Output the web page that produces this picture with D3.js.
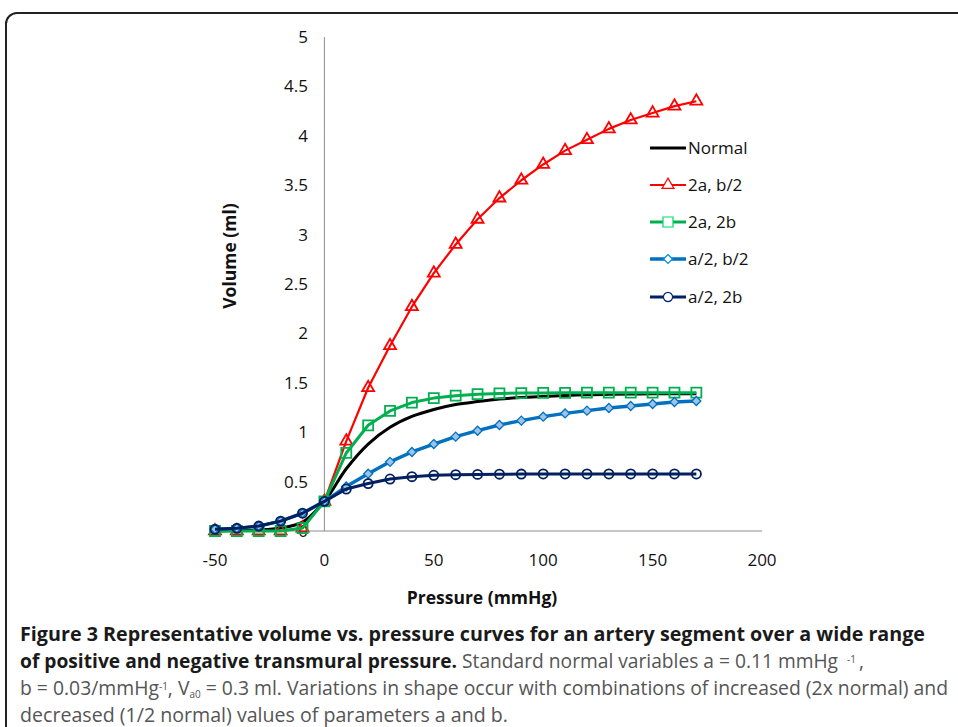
<!DOCTYPE html>
<html>
<head>
<meta charset="utf-8">
<script src="https://cdn.jsdelivr.net/npm/d3@7"></script>
<style>
  body { margin: 0; background: #fff; }
  svg { display: block; }
</style>
</head>
<body>
<script>
var w = 958;
var h = 727;

// pressure values (mmHg) shared by every series
var pressure = [-50, -40, -30, -20, -10, 0, 10, 20, 30, 40, 50, 60, 70, 80, 90, 100, 110, 120, 130, 140, 150, 160, 170];

var normal = [0.00, 0.005, 0.01, 0.03, 0.09, 0.30, 0.63, 0.88, 1.05, 1.16, 1.23, 1.28, 1.31, 1.335, 1.35, 1.362, 1.372, 1.378, 1.383, 1.386, 1.388, 1.39, 1.39];
var twoA_halfB = [0.0, 0.0, 0.0, 0.0, 0.03, 0.30, 0.91, 1.45, 1.875, 2.27, 2.61, 2.90, 3.155, 3.37, 3.55, 3.71, 3.85, 3.96, 4.07, 4.16, 4.23, 4.30, 4.35];
var twoA_twoB = [0.0, 0.0, 0.0, 0.0, 0.03, 0.30, 0.79, 1.07, 1.215, 1.30, 1.345, 1.37, 1.385, 1.392, 1.396, 1.398, 1.399, 1.40, 1.40, 1.40, 1.40, 1.40, 1.40];
var halfA_halfB = [0.017, 0.027, 0.05, 0.10, 0.18, 0.30, 0.45, 0.58, 0.70, 0.80, 0.88, 0.955, 1.015, 1.073, 1.117, 1.157, 1.19, 1.218, 1.245, 1.265, 1.285, 1.306, 1.316];
var halfA_twoB = [0.017, 0.027, 0.05, 0.10, 0.18, 0.30, 0.425, 0.48, 0.526, 0.55, 0.564, 0.57, 0.573, 0.575, 0.576, 0.577, 0.577, 0.577, 0.577, 0.577, 0.577, 0.577, 0.577];

var seriesNames = ["Normal", "2a, b/2", "2a, 2b", "a/2, b/2", "a/2, 2b"];
var seriesValues = [normal, twoA_halfB, twoA_twoB, halfA_halfB, halfA_twoB];

var xTicks = [-50, 0, 50, 100, 150, 200];
var yTicks = [0, 0.5, 1, 1.5, 2, 2.5, 3, 3.5, 4, 4.5, 5];

var styles = [
  { color: "#000000", width: 3, marker: null },
  { color: "#ff0000", width: 2.2, marker: "triangle" },
  { color: "#00b050", width: 3, marker: "square" },
  { color: "#0070c0", width: 3.4, marker: "diamond" },
  { color: "#002060", width: 3, marker: "circle" }
];

var font = "'Open Sans', 'DejaVu Sans', sans-serif";

var svg = d3.select("body").append("svg")
  .attr("width", w)
  .attr("height", h);

// frame of the figure box (runs off the right and bottom)
svg.append("rect")
  .attr("x", 6).attr("y", 13)
  .attr("width", 1000).attr("height", 800)
  .attr("rx", 11)
  .attr("fill", "none")
  .attr("stroke", "#222")
  .attr("stroke-width", 2);

var x = d3.scaleLinear().domain([-50, 200]).range([215, 762]);
var y = d3.scaleLinear().domain([0, 5]).range([531, 37]);

// axes: vertical one crosses at pressure 0
var gAxes = svg.append("g");
gAxes.append("line")
  .attr("x1", x(-50)).attr("x2", x(200))
  .attr("y1", y(0)).attr("y2", y(0))
  .attr("stroke", "#8c8c8c").attr("stroke-width", 1);
gAxes.append("line")
  .attr("x1", x(0)).attr("x2", x(0))
  .attr("y1", y(0)).attr("y2", y(5))
  .attr("stroke", "#8c8c8c").attr("stroke-width", 1);

gAxes.selectAll("text.xt").data(xTicks).enter().append("text")
  .attr("class", "xt")
  .attr("x", function(d){ return x(d); })
  .attr("y", 566)
  .attr("text-anchor", "middle")
  .attr("font-family", font)
  .attr("font-size", "17px")
  .attr("fill", "#111")
  .text(function(d){ return d; });

gAxes.selectAll("text.yt").data(yTicks).enter().append("text")
  .attr("class", "yt")
  .attr("x", 308)
  .attr("y", function(d){ return y(d) + 6; })
  .attr("text-anchor", "end")
  .attr("font-family", font)
  .attr("font-size", "17px")
  .attr("fill", "#111")
  .text(function(d){ return d; });

svg.append("text")
  .attr("x", 482).attr("y", 604)
  .attr("text-anchor", "middle")
  .attr("font-family", font)
  .attr("font-weight", "bold")
  .attr("font-size", "17.5px")
  .attr("fill", "#111")
  .text("Pressure (mmHg)");

svg.append("text")
  .attr("transform", "translate(236,256) rotate(-90)")
  .attr("text-anchor", "middle")
  .attr("font-family", font)
  .attr("font-weight", "bold")
  .attr("font-size", "17.5px")
  .attr("fill", "#111")
  .text("Volume (ml)");

function markerPath(type){
  if (type === "triangle") return d3.symbol().type(d3.symbolTriangle).size(62)();
  if (type === "square") return "M-5,-5H5V5H-5Z";
  if (type === "diamond") return "M0,-4.5L4.5,0L0,4.5L-4.5,0Z";
  if (type === "circle") return d3.symbol().type(d3.symbolCircle).size(66)();
  return null;
}

var gSeries = svg.append("g");

seriesValues.forEach(function(vals, i){
  var st = styles[i];
  var pts = pressure.map(function(p, j){ return [p, vals[j]]; });
  var line = d3.line()
    .x(function(d){ return x(d[0]); })
    .y(function(d){ return y(d[1]); })
    .curve(i === 0 ? d3.curveCatmullRom.alpha(0.5) : d3.curveLinear);

  var g = gSeries.append("g");
  g.append("path")
    .attr("d", line(pts))
    .attr("fill", "none")
    .attr("stroke", st.color)
    .attr("stroke-width", st.width)
    .attr("stroke-linejoin", "round");

  if (st.marker){
    g.selectAll("path.m").data(pts).enter().append("path")
      .attr("class", "m")
      .attr("d", markerPath(st.marker))
      .attr("transform", function(d){ return "translate(" + x(d[0]) + "," + y(d[1]) + ")"; })
      .attr("fill", st.marker === "diamond" ? "#9dc3e6" : "none")
      .attr("stroke", st.color)
      .attr("stroke-width", st.marker === "diamond" ? 1.3 : 1.8);
  }
});

// legend
var gLegend = svg.append("g");
var legendY = [148, 185, 222, 259, 297];
seriesNames.forEach(function(name, i){
  var st = styles[i];
  var ly = legendY[i];
  gLegend.append("line")
    .attr("x1", 650).attr("x2", 686)
    .attr("y1", ly).attr("y2", ly)
    .attr("stroke", st.color)
    .attr("stroke-width", st.width);
  if (st.marker){
    gLegend.append("path")
      .attr("d", markerPath(st.marker))
      .attr("transform", "translate(668," + ly + ")")
      .attr("fill", "#fff")
      .attr("stroke", d3.color(st.color).brighter(0.6))
      .attr("stroke-width", 1.2);
  }
  gLegend.append("text")
    .attr("x", 688).attr("y", ly + 6)
    .attr("font-family", font)
    .attr("font-size", "17px")
    .attr("fill", "#111")
    .text(name);
});

// caption
var capFont = "'Liberation Sans Narrow', 'Open Sans', sans-serif";
var cap = svg.append("g")
  .attr("font-family", capFont)
  .attr("font-size", "19.5px");

var t1 = cap.append("text").attr("x", 20).attr("y", 641)
  .attr("textLength", 905).attr("lengthAdjust", "spacingAndGlyphs");
t1.append("tspan").attr("font-weight", "bold").attr("fill", "#1a1a1a")
  .text("Figure 3 Representative volume vs. pressure curves for an artery segment over a wide range");

// line 2 ends with a superscript, placed as its own small texts
var t2 = cap.append("text").attr("x", 20).attr("y", 668)
  .attr("textLength", 818).attr("lengthAdjust", "spacingAndGlyphs");
t2.append("tspan").attr("font-weight", "bold").attr("fill", "#1a1a1a")
  .text("of positive and negative transmural pressure.");
t2.append("tspan").attr("fill", "#555").text(" Standard normal variables a = 0.11 mmHg");
cap.append("text").attr("x", 847).attr("y", 663)
  .attr("font-size", "10px").attr("fill", "#555").text("-1");
cap.append("text").attr("x", 859).attr("y", 668)
  .attr("fill", "#555").text(",");

var t3 = cap.append("text").attr("x", 20).attr("y", 695).attr("fill", "#555")
  .attr("textLength", 928).attr("lengthAdjust", "spacingAndGlyphs");
t3.append("tspan").text("b = 0.03/mmHg");
t3.append("tspan").attr("font-size", "10px").attr("dy", -5).text("-1");
t3.append("tspan").attr("dy", 5).text(", V");
t3.append("tspan").attr("font-size", "10px").attr("dy", 3).text("a0");
t3.append("tspan").attr("dy", -3).text(" = 0.3 ml. Variations in shape occur with combinations of increased (2x normal) and");

cap.append("text").attr("x", 20).attr("y", 722).attr("fill", "#555")
  .attr("textLength", 488).attr("lengthAdjust", "spacingAndGlyphs")
  .text("decreased (1/2 normal) values of parameters a and b.");
</script>
</body>
</html>
